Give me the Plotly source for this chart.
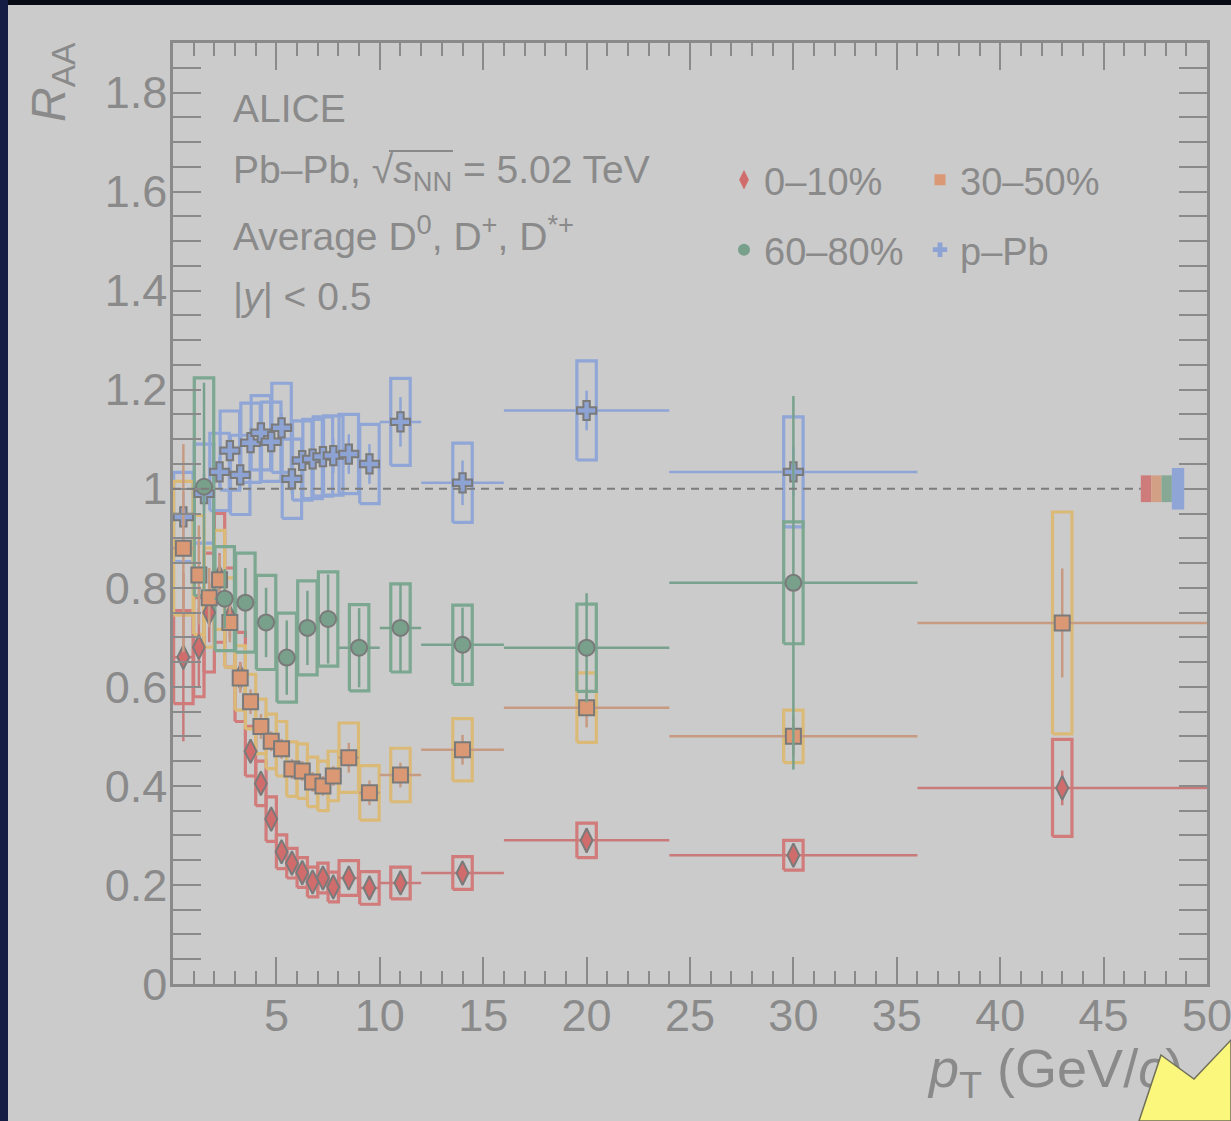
import plotly.graph_objects as go

# ---------------- data ----------------
# 0-10% centrality, average D0, D+, D*+
pt_010 = [0.5, 1.25, 1.75, 2.25, 2.75, 3.25, 3.75, 4.25, 4.75, 5.25, 5.75, 6.25, 6.75, 7.25, 7.75, 8.5, 9.5, 11, 14, 20, 30, 43]
hw_010 = [0.5, 0.25, 0.25, 0.25, 0.25, 0.25, 0.25, 0.25, 0.25, 0.25, 0.25, 0.25, 0.25, 0.25, 0.25, 0.5, 0.5, 1, 2, 4, 6, 7]
raa_010 = [0.66, 0.68, 0.75, 0.82, 0.74, 0.62, 0.47, 0.405, 0.333, 0.267, 0.244, 0.225, 0.206, 0.214, 0.196, 0.214, 0.194, 0.204, 0.224, 0.29, 0.26, 0.396]
stat_010 = [0.17, 0.08, 0.06, 0.05, 0.04, 0.03, 0.02, 0.02, 0.015, 0.012, 0.012, 0.01, 0.01, 0.01, 0.01, 0.01, 0.01, 0.012, 0.015, 0.025, 0.02, 0.035]
syst_010 = [0.094, 0.1, 0.12, 0.13, 0.1, 0.09, 0.05, 0.045, 0.045, 0.034, 0.03, 0.03, 0.03, 0.03, 0.03, 0.035, 0.033, 0.032, 0.033, 0.035, 0.03, 0.098]

# 30-50% centrality
pt_3050 = [0.5, 1.25, 1.75, 2.25, 2.75, 3.25, 3.75, 4.25, 4.75, 5.25, 5.75, 6.25, 6.75, 7.25, 7.75, 8.5, 9.5, 11, 14, 20, 30, 43]
hw_3050 = [0.5, 0.25, 0.25, 0.25, 0.25, 0.25, 0.25, 0.25, 0.25, 0.25, 0.25, 0.25, 0.25, 0.25, 0.25, 0.5, 0.5, 1, 2, 4, 6, 7]
raa_3050 = [0.88, 0.826, 0.78, 0.816, 0.73, 0.618, 0.57, 0.52, 0.49, 0.475, 0.434, 0.43, 0.408, 0.40, 0.42, 0.457, 0.386, 0.422, 0.473, 0.558, 0.50, 0.729]
stat_3050 = [0.21, 0.1, 0.06, 0.05, 0.04, 0.03, 0.025, 0.025, 0.02, 0.02, 0.02, 0.02, 0.02, 0.02, 0.02, 0.03, 0.025, 0.025, 0.03, 0.04, 0.04, 0.11]
syst_3050 = [0.135, 0.12, 0.1, 0.1, 0.09, 0.065, 0.055, 0.055, 0.055, 0.055, 0.055, 0.055, 0.05, 0.05, 0.05, 0.07, 0.055, 0.054, 0.063, 0.07, 0.053, 0.224]

# 60-80% centrality
pt_6080 = [1.5, 2.5, 3.5, 4.5, 5.5, 6.5, 7.5, 9, 11, 14, 20, 30]
hw_6080 = [0.5, 0.5, 0.5, 0.5, 0.5, 0.5, 0.5, 1, 1, 2, 4, 6]
raa_6080 = [1.004, 0.778, 0.77, 0.73, 0.659, 0.719, 0.737, 0.679, 0.719, 0.685, 0.679, 0.81]
stat_6080 = [0.21, 0.06, 0.07, 0.07, 0.075, 0.075, 0.09, 0.08, 0.09, 0.075, 0.11, 0.377]
syst_6080 = [0.22, 0.105, 0.1, 0.095, 0.09, 0.095, 0.095, 0.087, 0.089, 0.08, 0.088, 0.123]

# p-Pb
pt_ppb = [0.5, 1.5, 2.25, 2.75, 3.25, 3.75, 4.25, 4.75, 5.25, 5.75, 6.25, 6.75, 7.25, 7.75, 8.5, 9.5, 11, 14, 20, 30]
hw_ppb = [0.5, 0.5, 0.25, 0.25, 0.25, 0.25, 0.25, 0.25, 0.25, 0.25, 0.25, 0.25, 0.25, 0.25, 0.5, 0.5, 1, 2, 4, 6]
raa_ppb = [0.943, 0.99, 1.034, 1.077, 1.028, 1.093, 1.113, 1.095, 1.123, 1.02, 1.057, 1.06, 1.065, 1.067, 1.07, 1.05, 1.135, 1.012, 1.158, 1.034]
stat_ppb = [0.05, 0.04, 0.03, 0.03, 0.03, 0.03, 0.03, 0.03, 0.03, 0.03, 0.03, 0.03, 0.035, 0.035, 0.04, 0.04, 0.05, 0.045, 0.04, 0.05]
syst_ppb = [0.09, 0.1, 0.078, 0.08, 0.08, 0.08, 0.075, 0.08, 0.09, 0.08, 0.08, 0.08, 0.08, 0.08, 0.08, 0.08, 0.088, 0.08, 0.1, 0.111]

# global normalisation uncertainties (0-10, 30-50, 60-80, p-Pb)
norm_unc = [0.027, 0.027, 0.027, 0.042]

series_names = ["0–10%", "30–50%", "60–80%", "p–Pb"]
x_tick_vals = [0, 5, 10, 15, 20, 25, 30, 35, 40, 45, 50]
x_tick_text = ["", "5", "10", "15", "20", "25", "30", "35", "40", "45", "50"]
y_tick_vals = [0, 0.2, 0.4, 0.6, 0.8, 1.0, 1.2, 1.4, 1.6, 1.8]
y_tick_text = ["0", "0.2", "0.4", "0.6", "0.8", "1", "1.2", "1.4", "1.6", "1.8"]

# ---------------- styling ----------------
W, H = 1231, 1121
L, R, T, B = 173, 1207, 43, 984
BG = "#cbcbcb"
AX = "#8a8a8a"
TXT = "#8a8a8a"
EDGE = "#7a7a7a"
FONT = "Liberation Sans, Arial, Helvetica, sans-serif"


def px(xp):
    return (xp - L) / (R - L)


def py(yp):
    return (B - yp) / (B - T)


styles = {
    "0–10%": dict(line="#c97b7b", box="#d17b7b", fill="#d06c6c", symbol="diamond-tall", size=17, norm="#cd7b7b"),
    "30–50%": dict(line="#c79a82", box="#dbba78", fill="#da9875", symbol="square", size=15, norm="#d2a085"),
    "60–80%": dict(line="#78a28e", box="#7ca791", fill="#78a08b", symbol="circle", size=16, norm="#86a895"),
    "p–Pb": dict(line="#8ea5d5", box="#90a6d6", fill="#8ca3d3", symbol="cross", size=16, norm="#8ea5d6"),
}

data = {
    "0–10%": (pt_010, hw_010, raa_010, stat_010, syst_010, False),
    "30–50%": (pt_3050, hw_3050, raa_3050, stat_3050, syst_3050, False),
    "60–80%": (pt_6080, hw_6080, raa_6080, stat_6080, syst_6080, False),
    "p–Pb": (pt_ppb, hw_ppb, raa_ppb, stat_ppb, syst_ppb, True),
}

BOX_HALF = 0.47
draw_order = ["p–Pb", "0–10%", "30–50%", "60–80%"]

fig = go.Figure()

# systematic boxes
for name in draw_order:
    xs, hws, ys, st, sy, const_w = data[name]
    bx, by = [], []
    for x, h, y, e in zip(xs, hws, ys, sy):
        hb = BOX_HALF if const_w else min(h, BOX_HALF)
        bx += [x - hb, x + hb, x + hb, x - hb, x - hb, None]
        by += [y - e, y - e, y + e, y + e, y - e, None]
    fig.add_trace(go.Scatter(x=bx, y=by, mode="lines",
                             line=dict(color=styles[name]["box"], width=3.2),
                             showlegend=False, hoverinfo="skip"))

# points with statistical errors and bin widths
for name in draw_order:
    xs, hws, ys, st, sy, const_w = data[name]
    s = styles[name]
    fig.add_trace(go.Scatter(
        x=xs, y=ys, mode="markers",
        marker=dict(symbol=s["symbol"], size=s["size"], color=s["fill"],
                    line=dict(color=EDGE, width=2)),
        error_y=dict(type="data", array=st, visible=True, color=s["line"], thickness=2.5, width=0),
        error_x=dict(type="data", array=hws, visible=True, color=s["line"], thickness=2.5, width=0),
        showlegend=False))

# legend entries (two rows -> two legends)
legend_sizes = {"0–10%": 14, "30–50%": 11, "60–80%": 12, "p–Pb": 12}
for i, name in enumerate(series_names):
    s = styles[name]
    fig.add_trace(go.Scatter(
        x=[None], y=[None], mode="markers", name=name,
        marker=dict(symbol=s["symbol"], size=legend_sizes[name], color=s["fill"], line=dict(width=0)),
        legend="legend" if i < 2 else "legend2"))

# dummy trace on the overlay axis that carries the x title
fig.add_trace(go.Scatter(x=[None], y=[None], xaxis="x2", showlegend=False))

shapes = []
# reference line at 1
shapes.append(dict(type="line", xref="x", yref="y", x0=0, x1=46.8, y0=1, y1=1,
                   line=dict(color="#7c7c7c", width=2, dash="8px,6px"), layer="above"))
# normalisation boxes
norm_x0 = [46.8, 47.3, 47.8, 48.3]
norm_w = [0.5, 0.5, 0.5, 0.6]
for name, u, x0, w in zip(series_names, norm_unc, norm_x0, norm_w):
    shapes.append(dict(type="rect", xref="x", yref="y", x0=x0, x1=x0 + w, y0=1 - u, y1=1 + u,
                       fillcolor=styles[name]["norm"], line=dict(width=0), layer="above"))

# overline of the square root
shapes.append(dict(type="line", xref="paper", yref="paper", x0=px(389), x1=px(453),
                   y0=py(151), y1=py(151), line=dict(color=TXT, width=2)))

# dark slide border (top and left)
shapes.append(dict(type="rect", xref="paper", yref="paper", x0=px(0), x1=px(W), y0=py(0), y1=py(5),
                   fillcolor="#080a14", line=dict(width=0), layer="above"))
shapes.append(dict(type="rect", xref="paper", yref="paper", x0=px(0), x1=px(8), y0=py(0), y1=py(H),
                   fillcolor="#151d44", line=dict(width=0), layer="above"))

# yellow pointer arrow (slide decoration)
arrow_pts = [(1161, 1055), (1194, 1079), (1231, 1040), (1231, 1121), (1139, 1121)]
path = "M " + " L ".join(f"{px(a):.5f},{py(b):.5f}" for a, b in arrow_pts) + " Z"
shapes.append(dict(type="path", xref="paper", yref="paper", path=path,
                   fillcolor="#fbf77c", line=dict(color="#6f6f5a", width=1.5), layer="above"))

annotations = []
txt_lines = [
    ("ALICE", 108),
    ("Pb–Pb, √<i>s</i><sub>NN</sub> = 5.02 TeV", 172),
    ("Average D<sup>0</sup>, D<sup>+</sup>, D<sup>*+</sup>", 233),
    ("|<i>y</i>| &lt; 0.5", 296),
]
for t, yp in txt_lines:
    annotations.append(dict(text=t, x=px(231), y=py(yp), xref="paper", yref="paper",
                            xanchor="left", yanchor="middle", showarrow=False,
                            font=dict(size=39, color=TXT, family=FONT)))
# y axis title
annotations.append(dict(text="<i>R</i><sub>AA</sub>", x=px(52), y=py(40), xref="paper", yref="paper",
                        xanchor="center", yanchor="top", textangle=-90, showarrow=False,
                        font=dict(size=48, color=TXT, family=FONT)))

fig.update_layout(
    width=W, height=H, autosize=False,
    margin=dict(l=L, r=W - R, t=T, b=H - B, autoexpand=False),
    paper_bgcolor=BG, plot_bgcolor=BG,
    font=dict(family=FONT, color=TXT),
    xaxis=dict(range=[0, 50], showgrid=False, zeroline=False, automargin=False,
               showline=True, linecolor=AX, linewidth=2.5, mirror="allticks",
               ticks="inside", ticklen=27, tickwidth=2, tickcolor=AX,
               tickvals=x_tick_vals, ticktext=x_tick_text, ticklabeloverflow="allow",
               tickfont=dict(size=45, color=TXT, family=FONT), ticklabelstandoff=-10,
               minor=dict(dtick=1, ticks="inside", ticklen=13, tickwidth=2, tickcolor=AX, showgrid=False)),
    xaxis2=dict(range=[0, 50], overlaying="x", anchor="y", side="bottom", showgrid=False, zeroline=False,
                automargin=False, showline=False, ticks="", tickvals=[42.7],
                ticktext=["<i>p</i><sub>T</sub> (GeV/<i>c</i>)"],
                tickfont=dict(size=54, color=TXT, family=FONT), ticklabelstandoff=48),
    yaxis=dict(range=[0, 1.9], showgrid=False, zeroline=False, automargin=False,
               showline=True, linecolor=AX, linewidth=2.5, mirror="allticks",
               ticks="inside", ticklen=28, tickwidth=2, tickcolor=AX,
               tickvals=y_tick_vals, ticktext=y_tick_text,
               tickfont=dict(size=45, color=TXT, family=FONT), ticklabelstandoff=-6,
               minor=dict(dtick=0.05, ticks="inside", ticklen=14, tickwidth=2, tickcolor=AX, showgrid=False)),
    legend=dict(orientation="h", x=px(724), y=py(180), xanchor="left", yanchor="middle",
                bgcolor="rgba(0,0,0,0)", entrywidth=151, entrywidthmode="pixels",
                font=dict(size=38, color=TXT, family=FONT), itemclick=False, itemdoubleclick=False),
    legend2=dict(orientation="h", x=px(724), y=py(250), xanchor="left", yanchor="middle",
                 bgcolor="rgba(0,0,0,0)", entrywidth=151, entrywidthmode="pixels",
                 font=dict(size=38, color=TXT, family=FONT), itemclick=False, itemdoubleclick=False),
    shapes=shapes,
    annotations=annotations,
    showlegend=True,
)

fig.write_html("out.html", config={"displayModeBar": False},
               post_script="document.body.style.margin='0px';document.body.style.overflow='hidden';")
